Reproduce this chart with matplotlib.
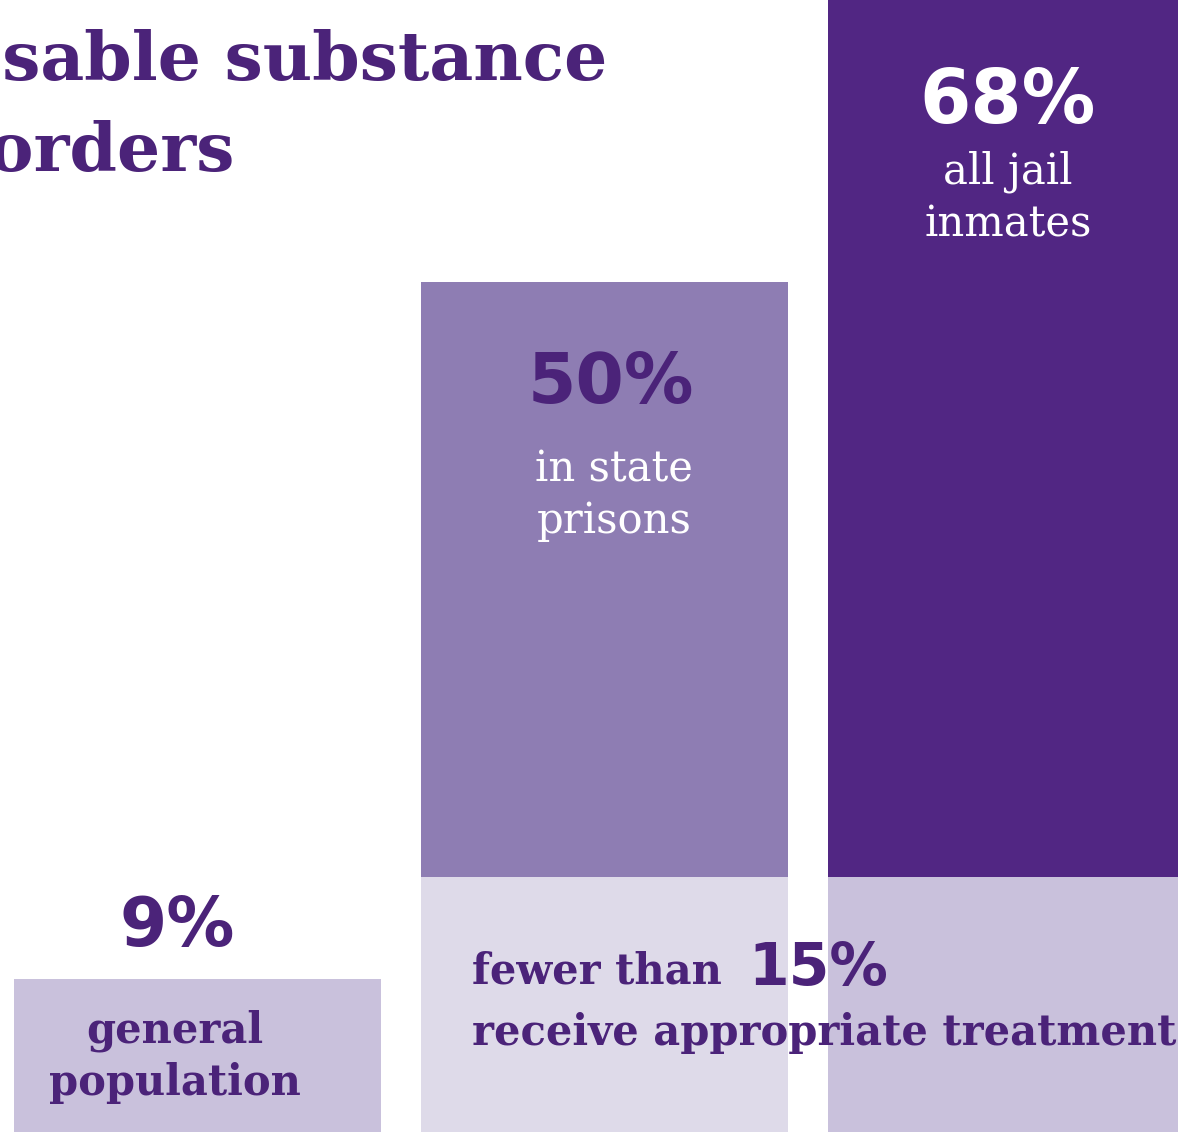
import matplotlib.pyplot as plt

groups = ['general\npopulation', 'in state\nprisons', 'all jail\ninmates']
shares = [9, 50, 68]
treated = 15  # fewer than 15% receive appropriate treatment

DARK = '#512683'
MID = '#8e7db3'
LIGHT = '#c9c1dc'
PALE = '#dedae9'
INK = '#4b2379'

W, H = 1178, 1132
fig = plt.figure(figsize=(W / 100, H / 100), dpi=100)
ax = fig.add_axes([0, 0, 1, 1])
ax.set_xlim(-0.485, 2.409)
ax.set_ylim(0, H / 17.0)
ax.axis('off')

bar_colors = [LIGHT, MID, DARK]
x = range(len(shares))
ax.bar(x, shares, width=0.9, color=bar_colors, linewidth=0)
# treatment share shown as a lighter band at the bottom of the two prison bars
ax.bar([1, 2], [treated, treated], width=0.9, color=[PALE, LIGHT], linewidth=0)


def px(xp, yp):
    return xp / W, 1 - yp / H


serif = 'DejaVu Serif'
sans = 'DejaVu Sans'

# title, cropped on the left like the source
fig.text(*px(607, 62), 'Diagnosable substance', ha='right', va='center',
         family=serif, weight='bold', fontsize=49, color=INK)
fig.text(*px(234, 152), 'use disorders', ha='right', va='center',
         family=serif, weight='bold', fontsize=49, color=INK)

# big numbers
fig.text(*px(1008, 102), f'{shares[2]}%', ha='center', va='center',
         family=sans, weight='bold', fontsize=53, color='white')
fig.text(*px(611, 383), f'{shares[1]}%', ha='center', va='center',
         family=sans, weight='bold', fontsize=50, color=INK)
fig.text(*px(177, 927), f'{shares[0]}%', ha='center', va='center',
         family=sans, weight='bold', fontsize=49, color=INK)

# group descriptions
fig.text(*px(1008, 198), groups[2], ha='center', va='center', family=serif,
         fontsize=30, color='white', linespacing=1.3)
fig.text(*px(614, 495), groups[1], ha='center', va='center', family=serif,
         fontsize=30, color='white', linespacing=1.3)
fig.text(*px(175, 1057), groups[0], ha='center', va='center', family=serif,
         weight='bold', fontsize=30, color=INK, linespacing=1.3)

# treatment note
fig.text(*px(472, 984), 'fewer than', ha='left', va='baseline', family=serif,
         weight='bold', fontsize=30, color=INK)
fig.text(*px(748, 985), f'{treated}%', ha='left', va='baseline', family=sans,
         weight='bold', fontsize=42, color=INK)
fig.text(*px(472, 1045), 'receive appropriate treatment', ha='left',
         va='baseline', family=serif, weight='bold', fontsize=30, color=INK)

fig.savefig('out.png', dpi=100, facecolor='white')
